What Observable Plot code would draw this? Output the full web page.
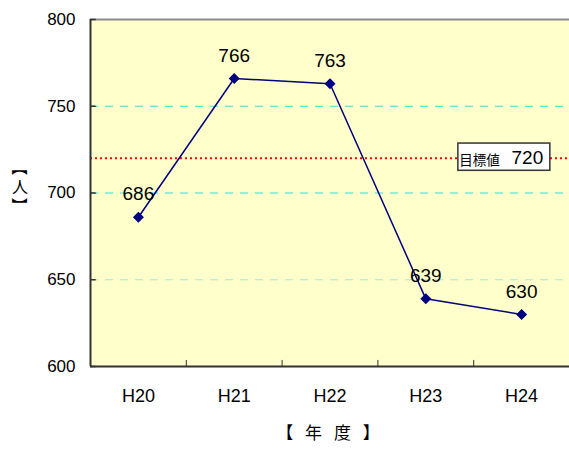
<!DOCTYPE html>
<html><head><meta charset="utf-8">
<script src="https://cdn.jsdelivr.net/npm/d3@7"></script>
<script src="https://cdn.jsdelivr.net/npm/@observablehq/plot@0.6"></script>
<style>
body{margin:0;background:#fff}
#wrap{position:relative;width:569px;height:449px}
#ylabel{position:absolute;left:11px;top:158px;width:18px;text-align:center;font-family:"Noto Sans CJK JP",sans-serif;font-size:16px;line-height:19px;color:#000}
#ylabel span{display:block}
#ylabel span.rot{transform:rotate(90deg)}
</style>
</head><body><div id="wrap"><div id="chart"></div><div id="ylabel"></div></div>
<script>
const categories = ["H20", "H21", "H22", "H23", "H24"];
const values = [686, 766, 763, 639, 630];
const yTicks = [600, 650, 700, 750, 800];
const target = 720;
const targetLabel = "目標値";
const xLabel = "【\u2002\u2009年\u2002\u2009度\u2002\u2009】";
const yLabel = ["【", "人", "】"];

const data = categories.map((c, i) => ({i, c, v: values[i]}));
const bounds = categories.slice(1).map((c, i) => i + 0.5);
const num = "Liberation Sans, Arial, sans-serif";
const jp = "Noto Sans CJK JP, sans-serif";

const chart = Plot.plot({
  width: 569, height: 449,
  marginLeft: 90, marginRight: 0, marginTop: 19, marginBottom: 83,
  style: {fontFamily: num, background: "#fff"},
  x: {domain: [-0.5, 4.5], axis: null},
  y: {domain: [600, 800], axis: null},
  marks: [
    Plot.frame({fill: "#FFFFCC", stroke: null}),
    Plot.ruleY([650], {stroke: "#a8e8d8", strokeWidth: 1.2, strokeDasharray: "8,7"}),
    Plot.ruleY([700, 750], {stroke: "#33e0e0", strokeWidth: 1.2, strokeDasharray: "8,7"}),
    Plot.ruleY([target], {stroke: "#ff0000", strokeWidth: 2, strokeDasharray: "2,3"}),
    Plot.ruleY([800], {stroke: "#8a8a8a", strokeWidth: 2}),
    Plot.ruleY([600], {stroke: "#333", strokeWidth: 2}),
    Plot.ruleX([-0.5], {stroke: "#333", strokeWidth: 2}),
    Plot.ruleX(bounds, {y1: 600, y2: 603.5, stroke: "#333", strokeWidth: 1}),
    Plot.ruleY(yTicks, {x1: -0.5, x2: -0.44, stroke: "#333", strokeWidth: 1.5}),
    Plot.text(yTicks, {x: -0.5, y: d => d, text: d => String(d), textAnchor: "end", dx: -15, fontSize: 17, fill: "#000"}),
    Plot.text(data, {x: "i", y: 600, text: "c", dy: 30, fontSize: 18, fill: "#000"}),
    Plot.line(data, {x: "i", y: "v", stroke: "#000080", strokeWidth: 1.5}),
    Plot.dot(data, {x: "i", y: "v", symbol: "diamond2", r: 4, fill: "#000080", stroke: "#000080"}),
    Plot.text(data, {x: "i", y: "v", text: d => String(d.v), dy: -23, fontSize: 19, fill: "#000"}),
    Plot.rect([target], {x1: 3.34, x2: 4.3, y1: d => d - 7.2, y2: d => d + 8.5, fill: "#fff", stroke: "#333", strokeWidth: 1.5}),
    Plot.text([target], {x: 3.56, y: d => d, text: () => targetLabel, fontFamily: jp, fontSize: 13.5, dy: 2, fill: "#000"}),
    Plot.text([target], {x: 4.06, y: d => d, text: d => String(d), fontSize: 19, dy: 0, fill: "#000"}),
    Plot.text([xLabel], {frameAnchor: "bottom", dy: 72, dx: -2, fontFamily: jp, fontSize: 17, fill: "#000"})
  ]
});
document.getElementById("chart").append(chart);
const yl = document.getElementById("ylabel");
yLabel.forEach(ch => {
  const s = document.createElement("span");
  s.textContent = ch;
  if (ch !== "人") s.className = "rot";
  yl.append(s);
});
</script></body></html>
